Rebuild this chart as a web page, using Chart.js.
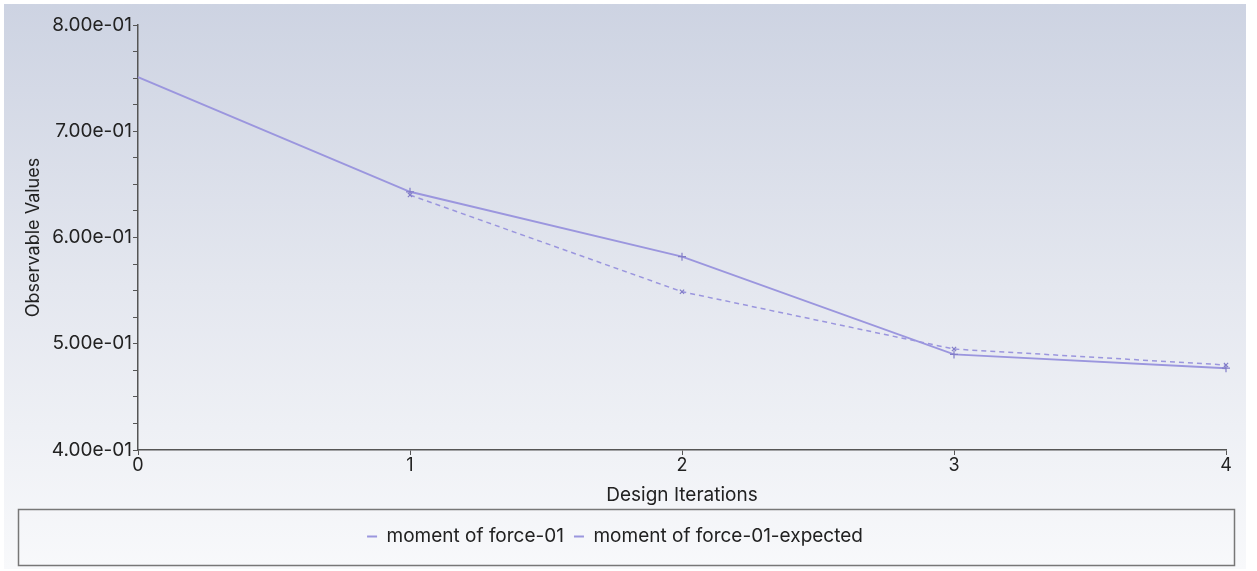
<!DOCTYPE html>
<html>
<head>
<meta charset="utf-8">
<script src="https://cdn.jsdelivr.net/npm/chart.js@4/dist/chart.umd.min.js"></script>
<style>
  html, body { margin: 0; padding: 0; background: #ffffff; }
  #wrap { position: absolute; left: 4px; top: 4px; width: 1242px; height: 565px; }
</style>
</head>
<body>
<div id="wrap"><canvas id="chart"></canvas></div>
<script>
// Data
const iterations = [0, 1, 2, 3, 4];
const momentValues = [0.751, 0.643, 0.582, 0.490, 0.477];
const expectedValues = [null, 0.640, 0.549, 0.495, 0.480];
const seriesNames = ['moment of force-01', 'moment of force-01-expected'];

const lineColor = 'rgb(155, 150, 222)';
const axisColor = '#555555';
const fontFamily = 'Inter, "Noto Sans", sans-serif';

// Format like 8.00e-01
function sciLabel(v) {
    const exp = Math.floor(Math.log10(Math.abs(v)));
    const mant = (v / Math.pow(10, exp)).toFixed(2);
    const sign = exp < 0 ? '-' : '+';
    const e = String(Math.abs(exp)).padStart(2, '0');
    return mant + 'e' + sign + e;
}

// Gradient background, legend nudged down, and the box round the legend
const backgroundPlugin = {
    id: 'panelBackground',
    afterLayout(chart) {
        // keep the tight item spacing but centre the text in the box
        chart.legend.top += 8;
        chart.legend.bottom += 8;
    },
    beforeDraw(chart) {
        const ctx = chart.ctx;
        const g = ctx.createLinearGradient(0, 0, 0, chart.height);
        g.addColorStop(0, '#cdd3e2');
        g.addColorStop(0.5, '#e4e7ef');
        g.addColorStop(1, '#f8f9fb');
        ctx.save();
        ctx.fillStyle = g;
        ctx.fillRect(0, 0, chart.width, chart.height);
        ctx.restore();
    },
    afterDraw(chart) {
        const ctx = chart.ctx;
        const top = Math.round(chart.scales.x.bottom) + 0.5;
        ctx.save();
        ctx.strokeStyle = '#777777';
        ctx.lineWidth = 1.5;
        ctx.strokeRect(14.5, top, chart.width - 26, chart.height - 3.5 - top);
        ctx.restore();
    }
};

function initializeChart() {
    const ctx = document.getElementById('chart').getContext('2d');

    new Chart(ctx, {
        type: 'line',
        data: {
            labels: iterations,
            datasets: [{
                label: seriesNames[0],
                data: iterations.map((x, i) => ({ x: x, y: momentValues[i] })),
                borderColor: lineColor,
                backgroundColor: lineColor,
                borderWidth: 2,
                tension: 0,
                pointStyle: 'cross',
                pointRadius: c => c.dataIndex === 0 ? 0 : 4,
                pointBorderWidth: 1.2,
                pointBorderColor: 'rgb(130, 125, 200)'
            }, {
                label: seriesNames[1],
                data: iterations.map((x, i) => ({ x: x, y: expectedValues[i] })),
                borderColor: lineColor,
                backgroundColor: lineColor,
                borderWidth: 1.5,
                borderDash: [5, 4],
                tension: 0,
                pointStyle: 'crossRot',
                pointRadius: 3,
                pointBorderWidth: 1.2,
                pointBorderColor: 'rgb(130, 125, 200)'
            }]
        },
        options: {
            responsive: true,
            maintainAspectRatio: false,
            animation: false,
            clip: false,
            layout: {
                padding: { top: 21, right: 20, left: 0, bottom: 21 }
            },
            scales: {
                x: {
                    type: 'linear',
                    min: 0,
                    max: 4,
                    afterFit: scale => { scale.height = 59; },
                    ticks: {
                        stepSize: 1,
                        color: '#222222',
                        font: { family: fontFamily, size: 18 },
                        padding: 0
                    },
                    grid: {
                        drawOnChartArea: false,
                        drawTicks: true,
                        tickLength: 5,
                        color: axisColor
                    },
                    border: { color: axisColor, width: 1.5 },
                    title: {
                        display: true,
                        text: 'Design Iterations',
                        color: '#222222',
                        font: { family: fontFamily, size: 19 },
                        padding: { top: 4, bottom: 2 }
                    }
                },
                y: {
                    min: 0.4,
                    max: 0.8,
                    afterFit: scale => { scale.width = 134; },
                    ticks: {
                        stepSize: 0.025,
                        autoSkip: false,
                        color: '#222222',
                        font: { family: fontFamily, size: 19 },
                        padding: 1,
                        callback: function(v) {
                            const t = Math.round(v * 1000) / 1000;
                            if (Math.abs(t * 10 - Math.round(t * 10)) < 1e-6) {
                                return sciLabel(t);
                            }
                            return '';
                        }
                    },
                    grid: {
                        drawOnChartArea: false,
                        drawTicks: true,
                        tickLength: 5,
                        color: axisColor
                    },
                    border: { color: axisColor, width: 1.5 },
                    title: {
                        display: true,
                        text: 'Observable Values',
                        color: '#222222',
                        font: { family: fontFamily, size: 18 },
                        padding: { top: 19, bottom: 6 }
                    }
                }
            },
            plugins: {
                legend: {
                    position: 'bottom',
                    labels: {
                        color: '#222222',
                        font: { family: fontFamily, size: 19 },
                        usePointStyle: true,
                        pointStyle: 'line',
                        pointStyleWidth: 10,
                        boxHeight: 2,
                        padding: 10,
                        generateLabels: chart => chart.data.datasets.map((d, i) => ({
                            text: d.label,
                            fillStyle: lineColor,
                            strokeStyle: lineColor,
                            lineWidth: 2,
                            pointStyle: 'line',
                            datasetIndex: i,
                            fontColor: '#222222'
                        }))
                    }
                },
                tooltip: { enabled: false }
            }
        },
        plugins: [backgroundPlugin]
    });
}

document.addEventListener('DOMContentLoaded', initializeChart);
</script>
</body>
</html>
